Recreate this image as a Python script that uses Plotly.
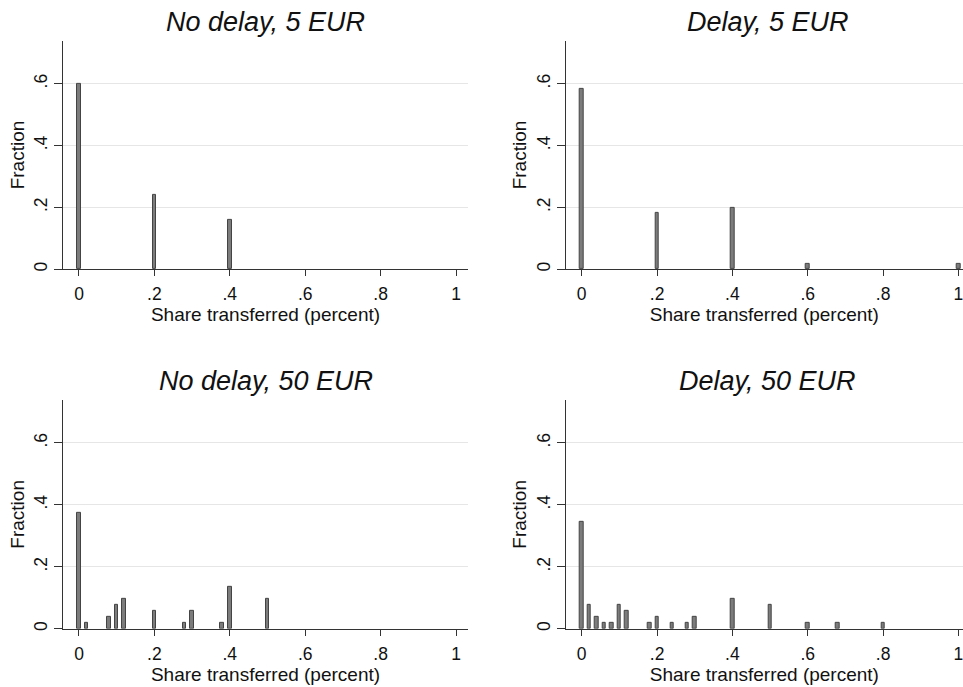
import plotly.graph_objects as go

# ---- data ----
titles = ["No delay, 5 EUR", "Delay, 5 EUR", "No delay, 50 EUR", "Delay, 50 EUR"]

x_nd5 = [0.0, 0.2, 0.4]
y_nd5 = [0.600, 0.240, 0.160]

x_d5 = [0.0, 0.2, 0.4, 0.6, 1.0]
y_d5 = [0.583, 0.183, 0.200, 0.017, 0.017]

x_nd50 = [0.0, 0.02, 0.08, 0.10, 0.12, 0.20, 0.28, 0.30, 0.38, 0.40, 0.50]
y_nd50 = [0.373, 0.020, 0.039, 0.078, 0.098, 0.059, 0.020, 0.059, 0.020, 0.137, 0.098]

x_d50 = [0.0, 0.02, 0.04, 0.06, 0.08, 0.10, 0.12, 0.18, 0.20, 0.24, 0.28, 0.30,
         0.40, 0.50, 0.60, 0.68, 0.80]
y_d50 = [0.346, 0.077, 0.038, 0.019, 0.019, 0.077, 0.058, 0.019, 0.038, 0.019,
         0.019, 0.038, 0.096, 0.077, 0.019, 0.019, 0.019]

x_tickvals = [0, 0.2, 0.4, 0.6, 0.8, 1]
x_ticktext = ["0", ".2", ".4", ".6", ".8", "1"]
y_tickvals = [0, 0.2, 0.4, 0.6]
y_ticktext = ["0", ".2", ".4", ".6"]

panels = [(x_nd5, y_nd5), (x_d5, y_d5), (x_nd50, y_nd50), (x_d50, y_d50)]

# ---- layout geometry ----
W, H = 963, 687
FONT = "Liberation Sans, Arial, Helvetica, sans-serif"
xdoms = [(63 / W, 468 / W), (565.7 / W, 1.0)]
ydoms = [(1 - 270 / H, 1 - 41 / H), (1 - 630.7 / H, 1 - 401 / H)]
xranges = [(-0.0424, 1.0318), (-0.0425, 1.012)]
yrange = (0, 0.7387)
title_x = [265.5 / W, 767.5 / W]
title_y = [22, 382]

fig = go.Figure()
for i, (xs, ys) in enumerate(panels):
    r, c = divmod(i, 2)
    ax = "" if i == 0 else str(i + 1)
    fig.add_trace(go.Bar(
        x=xs, y=ys, width=0.0095,
        marker=dict(color="#7c7c7c", line=dict(color="#444444", width=1)),
        xaxis="x" + ax, yaxis="y" + ax, showlegend=False, hoverinfo="x+y",
    ))
    fig.layout["xaxis" + ax] = dict(
        domain=list(xdoms[c]), range=list(xranges[c]), anchor="y" + ax,
        tickvals=x_tickvals, ticktext=x_ticktext, ticklabeloverflow="allow",
        showgrid=False, zeroline=False, showline=True, linecolor="#333333", linewidth=1.3,
        ticks="outside", ticklen=6, tickcolor="#333333", tickwidth=1.3,
        ticklabelstandoff=3,
        tickfont=dict(family=FONT, size=17.5, color="#111111"),
        title=dict(text="Share transferred (percent)", standoff=0,
                   font=dict(family=FONT, size=19, color="#111111")),
        fixedrange=True,
    )
    fig.layout["yaxis" + ax] = dict(
        domain=list(ydoms[r]), range=list(yrange), anchor="x" + ax,
        tickvals=y_tickvals, ticktext=y_ticktext, tickangle=-90,
        showgrid=True, gridcolor="#e6e6e6", gridwidth=1.2, zeroline=False,
        showline=True, linecolor="#333333", linewidth=1.3,
        ticks="outside", ticklen=8, tickcolor="#333333", tickwidth=1.3,
        tickfont=dict(family=FONT, size=17.5, color="#111111"),
        title=dict(text="Fraction", standoff=1,
                   font=dict(family=FONT, size=19, color="#111111")),
        fixedrange=True,
    )
    fig.add_annotation(
        x=title_x[c], y=1 - title_y[r] / H, xref="paper", yref="paper",
        text="<i>" + titles[i] + "</i>", showarrow=False,
        xanchor="center", yanchor="middle",
        font=dict(family=FONT, size=27, color="#111111"),
    )

fig.update_layout(
    width=W, height=H, margin=dict(l=0, r=0, t=0, b=0),
    paper_bgcolor="white", plot_bgcolor="white", bargap=0,
    font=dict(family=FONT, color="#111111"),
)

fig.write_html("out.html")
